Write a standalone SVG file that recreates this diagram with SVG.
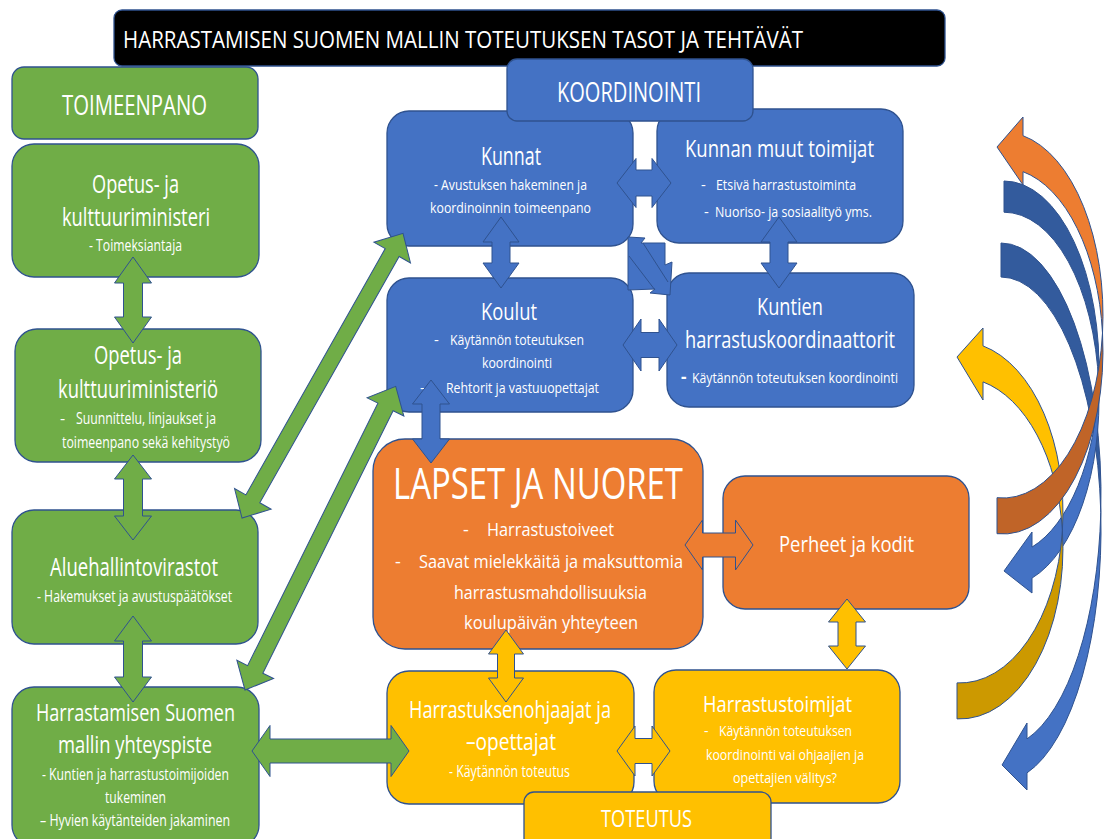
<svg xmlns="http://www.w3.org/2000/svg" width="1105" height="839" viewBox="0 0 1105 839">
<style>
.bx{stroke:#2F528F;stroke-width:1.3}
.g{fill:#70AD47}.b{fill:#4472C4}.o{fill:#ED7D31}.y{fill:#FFC000}
.ar{stroke:#2F528F;stroke-width:1;stroke-linejoin:miter}
text{font-family:"Open Sans","Liberation Sans",Arial,sans-serif;fill:#FFFFFF}
</style>
<rect width="1105" height="839" fill="#FFFFFF"/>

<g id="title">
<rect x="114" y="10" width="831" height="56" rx="8" fill="#000000" class="bx"/>
<text x="123" y="48" font-size="24" textLength="680" lengthAdjust="spacingAndGlyphs">HARRASTAMISEN SUOMEN MALLIN TOTEUTUKSEN TASOT JA TEHTÄVÄT</text>
</g>

<g id="toimeenpano">
<rect x="12" y="67" width="246" height="72" rx="12" class="bx g"/>
<text x="62" y="115" font-size="28" textLength="145" lengthAdjust="spacingAndGlyphs">TOIMEENPANO</text>
</g>

<g id="ministeri">
<rect x="12" y="144" width="247" height="133" rx="22" class="bx g"/>
<text x="92" y="193" font-size="26" textLength="87" lengthAdjust="spacingAndGlyphs">Opetus- ja</text>
<text x="62" y="226" font-size="26" textLength="148" lengthAdjust="spacingAndGlyphs">kulttuuriministeri</text>
<text x="89" y="251" font-size="16" textLength="93" lengthAdjust="spacingAndGlyphs">- Toimeksiantaja</text>
</g>

<g id="ministerio">
<rect x="15" y="329" width="246" height="133" rx="22" class="bx g"/>
<text x="94" y="364" font-size="26" textLength="88" lengthAdjust="spacingAndGlyphs">Opetus- ja</text>
<text x="58" y="398" font-size="26" textLength="160" lengthAdjust="spacingAndGlyphs">kulttuuriministeriö</text>
<text x="60" y="424" font-size="16">-</text>
<text x="76" y="424" font-size="16" textLength="140" lengthAdjust="spacingAndGlyphs">Suunnittelu, linjaukset ja</text>
<text x="62" y="448" font-size="16" textLength="168" lengthAdjust="spacingAndGlyphs">toimeenpano sekä kehitystyö</text>
</g>

<g id="avi">
<rect x="12" y="510" width="246" height="134" rx="22" class="bx g"/>
<text x="50" y="576" font-size="25" textLength="168" lengthAdjust="spacingAndGlyphs">Aluehallintovirastot</text>
<text x="37" y="602" font-size="16" textLength="195" lengthAdjust="spacingAndGlyphs">- Hakemukset ja avustuspäätökset</text>
</g>

<g id="yhteyspiste">
<rect x="12" y="687" width="247" height="160" rx="22" class="bx g"/>
<text x="36" y="721" font-size="24" textLength="199" lengthAdjust="spacingAndGlyphs">Harrastamisen Suomen</text>
<text x="58" y="753" font-size="24" textLength="154" lengthAdjust="spacingAndGlyphs">mallin yhteyspiste</text>
<text x="42" y="780" font-size="16" textLength="187" lengthAdjust="spacingAndGlyphs">- Kuntien ja harrastustoimijoiden</text>
<text x="105" y="803" font-size="16" textLength="61" lengthAdjust="spacingAndGlyphs">tukeminen</text>
<text x="40" y="826" font-size="16" textLength="190" lengthAdjust="spacingAndGlyphs">– Hyvien käytänteiden jakaminen</text>
</g>

<g id="kunnat">
<rect x="387" y="111" width="246" height="135" rx="22" class="bx b"/>
<text x="481" y="165" font-size="25" textLength="60" lengthAdjust="spacingAndGlyphs">Kunnat</text>
<text x="434" y="190" font-size="15" textLength="153" lengthAdjust="spacingAndGlyphs">- Avustuksen hakeminen ja</text>
<text x="430" y="213" font-size="15" textLength="161" lengthAdjust="spacingAndGlyphs">koordinoinnin toimeenpano</text>
</g>

<g id="muut">
<rect x="657" y="109" width="246" height="134" rx="22" class="bx b"/>
<text x="685" y="157" font-size="24" textLength="189" lengthAdjust="spacingAndGlyphs">Kunnan muut toimijat</text>
<text x="701" y="190" font-size="15">-</text>
<text x="716" y="190" font-size="15" textLength="140" lengthAdjust="spacingAndGlyphs">Etsivä  harrastustoiminta</text>
<text x="704" y="217" font-size="15">-</text>
<text x="715" y="217" font-size="15" textLength="157" lengthAdjust="spacingAndGlyphs">Nuoriso- ja sosiaalityö yms.</text>
</g>

<g id="koulut">
<rect x="387" y="278" width="246" height="134" rx="22" class="bx b"/>
<text x="481" y="320" font-size="24" textLength="56" lengthAdjust="spacingAndGlyphs">Koulut</text>
<text x="434" y="345" font-size="15">-</text>
<text x="450" y="345" font-size="15" textLength="134" lengthAdjust="spacingAndGlyphs">Käytännön toteutuksen</text>
<text x="482" y="368" font-size="15" textLength="70" lengthAdjust="spacingAndGlyphs">koordinointi</text>
<text x="420" y="393" font-size="15">-</text>
<text x="446" y="393" font-size="15" textLength="153" lengthAdjust="spacingAndGlyphs">Rehtorit ja vastuuopettajat</text>
</g>

<g id="koordinaattorit">
<rect x="667" y="273" width="247" height="134" rx="22" class="bx b"/>
<text x="757" y="315" font-size="24" textLength="66" lengthAdjust="spacingAndGlyphs">Kuntien</text>
<text x="685" y="348" font-size="24" textLength="210" lengthAdjust="spacingAndGlyphs">harrastuskoordinaattorit</text>
<text x="681" y="383" font-size="17" font-weight="bold">-</text>
<text x="692" y="383" font-size="15" textLength="206" lengthAdjust="spacingAndGlyphs">Käytännön toteutuksen koordinointi</text>
</g>

<g id="koordinointi">
<rect x="507" y="59" width="246" height="62" rx="10" class="bx b"/>
<text x="557" y="102" font-size="28" textLength="144" lengthAdjust="spacingAndGlyphs">KOORDINOINTI</text>
</g>

<g id="lapset">
<rect x="373" y="439" width="330" height="210" rx="32" class="bx o"/>
<text x="393" y="499" font-size="43" textLength="290" lengthAdjust="spacingAndGlyphs">LAPSET JA NUORET</text>
<text x="463" y="536" font-size="18">-</text>
<text x="487" y="536" font-size="18" textLength="127" lengthAdjust="spacingAndGlyphs">Harrastustoiveet</text>
<text x="395" y="568" font-size="18">-</text>
<text x="419" y="568" font-size="18" textLength="264" lengthAdjust="spacingAndGlyphs">Saavat mielekkäitä ja maksuttomia</text>
<text x="454" y="599" font-size="18" textLength="193" lengthAdjust="spacingAndGlyphs">harrastusmahdollisuuksia</text>
<text x="464" y="629" font-size="18" textLength="174" lengthAdjust="spacingAndGlyphs">koulupäivän yhteyteen</text>
</g>

<g id="perheet">
<rect x="723" y="476" width="246" height="133" rx="22" class="bx o"/>
<text x="779" y="552" font-size="21" textLength="135" lengthAdjust="spacingAndGlyphs">Perheet ja kodit</text>
</g>

<g id="ohjaajat">
<rect x="387" y="671" width="247" height="133" rx="22" class="bx y"/>
<text x="409" y="718" font-size="23" textLength="202" lengthAdjust="spacingAndGlyphs">Harrastuksenohjaajat ja</text>
<text x="466" y="750" font-size="23" textLength="90" lengthAdjust="spacingAndGlyphs">–opettajat</text>
<text x="449" y="777" font-size="16" textLength="121" lengthAdjust="spacingAndGlyphs">- Käytännön toteutus</text>
</g>

<g id="harrastustoimijat">
<rect x="654" y="670" width="246" height="133" rx="22" class="bx y"/>
<text x="703" y="712" font-size="21" textLength="149" lengthAdjust="spacingAndGlyphs">Harrastustoimijat</text>
<text x="704" y="736" font-size="14">-</text>
<text x="719" y="736" font-size="14" textLength="133" lengthAdjust="spacingAndGlyphs">Käytännön toteutuksen</text>
<text x="706" y="760" font-size="14" textLength="158" lengthAdjust="spacingAndGlyphs">koordinointi vai ohjaajien ja</text>
<text x="733" y="783" font-size="14" textLength="104" lengthAdjust="spacingAndGlyphs">opettajien välitys?</text>
</g>

<g id="connectors">
<!-- green -->
<polygon class="ar g" points="133,257 151.5,283 142.5,283 142.5,317 151.5,317 133,343 114.5,317 123.5,317 123.5,283 114.5,283"/>
<polygon class="ar g" points="133,455 151.5,479 142.5,479 142.5,516 151.5,516 133,540 114.5,516 123.5,516 123.5,479 114.5,479"/>
<polygon class="ar g" points="133,616 151.5,641 142.5,641 142.5,677 151.5,677 133,702 114.5,677 123.5,677 123.5,641 114.5,641"/>
<polygon class="ar g" points="252,751 270,725.5 270,739 391,739 391,725.5 409,751 391,776.5 391,763 270,763 270,776.5"/>
<polygon class="ar g" transform="translate(242,518) rotate(-60.5)" points="0,0 22,-21 22,-8 305,-8 305,-21 327,0 305,21 305,8 22,8 22,21"/>
<polygon class="ar g" transform="translate(245,690) rotate(-63.6)" points="0,0 23,-20.5 23,-8.5 316,-8.5 316,-20.5 339,0 316,20.5 316,8.5 23,8.5 23,20.5"/>
<!-- blue -->
<polygon class="ar b" points="501,217 519,242 510,242 510,263 519,263 501,288 483,263 492,263 492,242 483,242"/>
<polygon class="ar b" points="779,217 797,242 788,242 788,263 797,263 779,288 761,263 770,263 770,242 761,242"/>
<polygon class="ar b" points="617,183 636,158.5 636,170 652,170 652,158.5 671,183 652,207.5 652,196 636,196 636,207.5"/>
<polygon class="ar b" points="623,345 641,319 641,332.5 659,332.5 659,319 677,345 659,371 659,357.5 641,357.5 641,371"/>
<path class="ar b" d="M628,237 L645,238 L641,243 L665,243 L665,265 L672,262 L670,295 L650,293 L655,289 L628,290 Z M643,243 L668,282 M629,256 L655,290"/>
<polygon class="ar b" points="431,380 449.5,404 440,404 440,439 449.5,439 431,463 412.5,439 422,439 422,404 412.5,404"/>
<!-- orange / yellow -->
<polygon class="ar o" points="685,545 702.5,520 702.5,533 735.5,533 735.5,520 753,545 735.5,570 735.5,557 702.5,557 702.5,570"/>
<polygon class="ar y" points="847,599 865.5,622 856,622 856,646 865.5,646 847,669 828.5,646 838,646 838,622 828.5,622"/>
<polygon class="ar y" points="506,630 523.5,654 514.5,654 514.5,678 523.5,678 506,702 488.5,678 497.5,678 497.5,654 488.5,654"/>
<polygon class="ar y" points="617,751 635,726 635,738.5 652,738.5 652,726 670,751 652,776 652,763.5 635,763.5 635,776"/>
<!-- curved arrows on the right -->
<path class="ar" fill="#335B9D" d="M1001,243 A100,252.3 0 0 1 1100.8,512.3 A100,252.3 0 0 0 1001,277 Z"/>
<path class="ar b" d="M1100.8,512.3 A100,252.3 0 0 1 1027,772.9 L1027,790 L1002,765 L1027,723 L1027,738.9 A100,252.3 0 0 0 1100.8,512.3 Z"/>
<path class="ar" fill="#335B9D" d="M1004,181 A95,187.2 0 0 1 1098.7,383.7 A95,187.2 0 0 0 1004,212.2 Z"/>
<path class="ar b" d="M1098.7,383.7 A95,187.2 0 0 1 1032,578.1 L1032,593 L1004,571 L1032,532 L1032,547.1 A95,187.2 0 0 0 1098.7,383.7 Z"/>
<path class="ar" fill="#CC9900" d="M1062.4,530.3 A103,170.7 0 0 1 957,718.9 L957,682.9 A103,170.7 0 0 0 1062.4,530.3 Z"/>
<path class="ar y" d="M983,345.9 A103,170.7 0 0 1 1062.4,530.3 A103,170.7 0 0 0 983,381.9 L983,400 L957,357 L983,328 Z"/>
<path class="ar" fill="#C06428" d="M1102.5,333 A100,183 0 0 1 997,533.7 L997,497.7 A100,183 0 0 0 1102.5,333 Z"/>
<path class="ar o" d="M1023,135.7 A100,183 0 0 1 1102.5,333 A100,183 0 0 0 1023,171.7 L1023,185 L997,147 L1023,117 Z"/>
</g>

<g id="toteutus">
<rect x="524" y="792" width="247" height="60" rx="10" class="bx y"/>
<text x="601" y="827" font-size="24" textLength="91" lengthAdjust="spacingAndGlyphs">TOTEUTUS</text>
</g>
</svg>
